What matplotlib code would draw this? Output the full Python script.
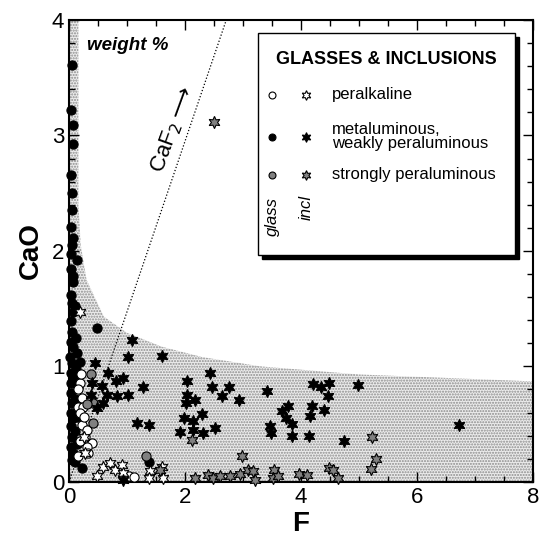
import matplotlib.pyplot as plt
from matplotlib.patches import Polygon, Rectangle

plt.rcParams['font.family'] = ['Liberation Sans', 'DejaVu Sans']

# glasses (circles)
glass_per_F = [0.19, 0.16, 0.22, 0.16, 0.24, 0.19, 0.22, 0.28, 0.40, 0.19, 0.31, 0.16, 0.33,
               0.25, 0.20, 1.03, 1.12, 0.30]
glass_per_CaO = [0.86, 0.80, 0.73, 0.65, 0.65, 0.60, 0.49, 0.39, 0.34, 0.35, 0.30, 0.22, 0.25,
                 0.56, 0.93, 0.05, 0.04, 0.45]

glass_met_F = [0.05, 0.03, 0.06, 0.06, 0.04, 0.05, 0.05, 0.03, 0.06,
               0.05, 0.03, 0.14, 0.03, 0.07, 0.06, 0.04, 0.05, 0.07, 0.04, 0.05, 0.04,
               0.07, 0.02, 0.05, 0.19, 0.04, 0.09, 0.03, 0.04, 0.05, 0.03, 0.07, 0.04,
               0.05, 0.04, 0.07, 0.05, 0.22, 0.14, 0.12, 0.15, 0.10, 0.13, 0.11, 0.14,
               0.10, 0.16, 0.12, 0.10, 0.48, 1.38]
glass_met_CaO = [3.61, 3.22, 3.09, 2.93, 2.66, 2.50, 2.35, 2.21, 2.11,
                 2.05, 1.97, 1.92, 1.84, 1.78, 1.73, 1.62, 1.55, 1.47, 1.39, 1.30, 1.21,
                 1.17, 1.08, 1.03, 1.04, 0.94, 0.90, 0.86, 0.77, 0.68, 0.60, 0.55, 0.48,
                 0.39, 0.30, 0.25, 0.19, 0.12, 1.12, 0.98, 0.82, 0.72, 0.56, 0.44, 0.33,
                 0.17, 0.62, 1.25, 1.52, 1.33, 0.17]

glass_spa_F = [0.38, 0.41, 0.41, 0.31, 1.33]
glass_spa_CaO = [0.93, 0.68, 0.51, 0.67, 0.22]

# inclusions (stars)
incl_per_F = [0.19, 0.48, 0.59, 0.71, 0.79, 0.91, 0.93, 1.40, 1.38, 1.60, 1.62, 0.26, 0.28]
incl_per_CaO = [1.47, 0.05, 0.13, 0.16, 0.10, 0.15, 0.08, 0.09, 0.03, 0.13, 0.03, 0.39, 0.25]

incl_met_F = [1.09, 1.02, 1.60, 0.45, 0.67, 0.81, 0.93, 0.40, 0.57, 1.28, 0.38, 0.66, 0.83,
              1.02, 0.59, 1.17, 1.38, 0.48, 0.93,
              2.03, 2.43, 2.03, 2.17, 2.02, 2.47, 2.64, 2.76, 2.93, 2.29, 1.98, 2.14, 2.52,
              2.14, 1.91, 2.31,
              3.41, 4.21, 4.34, 4.48, 4.98, 4.47, 3.78, 4.19, 3.67, 4.40, 4.16, 3.74, 3.84,
              3.47, 3.48, 3.84, 4.14, 4.74, 6.72]
incl_met_CaO = [1.23, 1.08, 1.09, 1.03, 0.94, 0.87, 0.90, 0.86, 0.83, 0.82, 0.75, 0.75, 0.74,
                0.75, 0.68, 0.51, 0.49, 0.64, 0.02,
                0.87, 0.94, 0.75, 0.71, 0.68, 0.82, 0.74, 0.82, 0.71, 0.59, 0.55, 0.53, 0.47,
                0.45, 0.43, 0.42,
                0.79, 0.85, 0.82, 0.86, 0.84, 0.74, 0.66, 0.66, 0.61, 0.62, 0.57, 0.55, 0.50,
                0.48, 0.42, 0.40, 0.40, 0.35, 0.49]

incl_spa_F = [2.50, 2.12, 2.98, 2.17, 2.40, 2.48, 2.60, 2.78, 2.95, 3.09, 3.17, 3.21, 3.53,
              3.52, 3.60, 3.97, 4.10, 4.48, 4.55, 4.64, 5.22, 5.29, 5.21, 1.57]
incl_spa_CaO = [3.12, 0.36, 0.22, 0.03, 0.06, 0.03, 0.05, 0.05, 0.07, 0.10, 0.09, 0.02, 0.10,
                0.03, 0.05, 0.07, 0.06, 0.12, 0.10, 0.03, 0.39, 0.20, 0.11, 0.10]

# outline of the stippled field
field_F = [0.0, 0.16, 0.16, 0.20, 0.30, 0.60, 1.0, 1.6, 2.3, 3.3, 5.0, 8.0, 8.0, 0.0]
field_CaO = [4.0, 4.0, 2.4, 2.05, 1.75, 1.43, 1.29, 1.17, 1.08, 1.0, 0.93, 0.87, 0.0, 0.0]

caf2_ratio = 56.08 / 38.0  # CaO / F in fluorite

fig, ax = plt.subplots(figsize=(5.4, 5.39), dpi=100)
fig.subplots_adjust(left=0.128, right=0.987, bottom=0.106, top=0.963)

ax.add_patch(Polygon(list(zip(field_F, field_CaO)), closed=True, facecolor='#ececec',
                     edgecolor='#8c8c8c', linewidth=0, hatch='......', zorder=0))

ax.plot([0, 4.0 / caf2_ratio], [0, 4.0], ls=(0, (1, 1.6)), color='black', lw=0.9, zorder=1)
ax.text(1.78, 3.05, r'CaF$_2$$\longrightarrow$', rotation=70, fontsize=16,
        ha='center', va='center')

star = (6, 1, 0)
ms_c = 6.6
ms_s = 8.8
ax.plot(glass_met_F, glass_met_CaO, 'o', ms=ms_c, mfc='black', mec='black', mew=0.8, clip_on=False, zorder=3)
ax.plot(glass_per_F, glass_per_CaO, 'o', ms=ms_c, mfc='white', mec='black', mew=0.8, clip_on=False, zorder=3)
ax.plot(glass_spa_F, glass_spa_CaO, 'o', ms=ms_c, mfc='#808080', mec='black', mew=0.8, clip_on=False, zorder=3)
ax.plot(incl_per_F, incl_per_CaO, marker=star, ls='none', ms=ms_s, mfc='white', mec='black', mew=0.8, clip_on=False, zorder=4)
ax.plot(incl_met_F, incl_met_CaO, marker=star, ls='none', ms=ms_s, mfc='black', mec='black', mew=0.8, clip_on=False, zorder=4)
ax.plot(incl_spa_F, incl_spa_CaO, marker=star, ls='none', ms=ms_s, mfc='#808080', mec='black', mew=0.8, clip_on=False, zorder=4)

ax.text(0.3, 3.78, 'weight %', fontsize=13.5, fontweight='bold', style='italic', va='center')

# legend box with drop shadow
ax.add_patch(Rectangle((0.416, 0.482), 0.554, 0.481, transform=ax.transAxes,
                       facecolor='black', edgecolor='black', zorder=5))
ax.add_patch(Rectangle((0.407, 0.491), 0.554, 0.481, transform=ax.transAxes,
                       facecolor='white', edgecolor='black', lw=1.0, zorder=6))
ax.text(0.685, 0.915, 'GLASSES & INCLUSIONS', transform=ax.transAxes, fontsize=13,
        fontweight='bold', ha='center', va='center', zorder=7)
leg_rows = [(0.838, 'white', 'peralkaline'),
            (0.747, 'black', 'metaluminous,\nweakly peraluminous'),
            (0.665, '#808080', 'strongly peraluminous')]
for yy, fc, label in leg_rows:
    ax.plot(0.4375, yy, 'o', ms=5, mfc=fc, mec='black', mew=0.8, transform=ax.transAxes, zorder=7)
    ax.plot(0.511, yy, marker=star, ms=7, mfc=fc, mec='black', mew=0.8, transform=ax.transAxes, zorder=7)
    ax.text(0.567, yy, label, transform=ax.transAxes, fontsize=12, va='center',
            linespacing=0.9, zorder=7)
ax.text(0.4375, 0.575, 'glass', transform=ax.transAxes, fontsize=12, style='italic',
        rotation=90, ha='center', va='center', zorder=7)
ax.text(0.511, 0.595, 'incl', transform=ax.transAxes, fontsize=12, style='italic',
        rotation=90, ha='center', va='center', zorder=7)

ax.set_xlim(0, 8)
ax.set_ylim(0, 4)
ax.set_xticks([0, 2, 4, 6, 8])
ax.set_yticks([0, 1, 2, 3, 4])
ax.set_xticks([i * 0.5 for i in range(17)], minor=True)
ax.set_yticks([i * 0.2 for i in range(21)], minor=True)
ax.tick_params(which='both', direction='in', top=True, right=True, width=1)
ax.tick_params(which='major', length=7, labelsize=16)
ax.tick_params(which='minor', length=4)
for s in ax.spines.values():
    s.set_linewidth(1.5)

ax.set_xlabel('F', fontsize=20, fontweight='bold', labelpad=2)
ax.set_ylabel('CaO', fontsize=20, fontweight='bold', labelpad=6)

plt.savefig('out.png', dpi=100)
